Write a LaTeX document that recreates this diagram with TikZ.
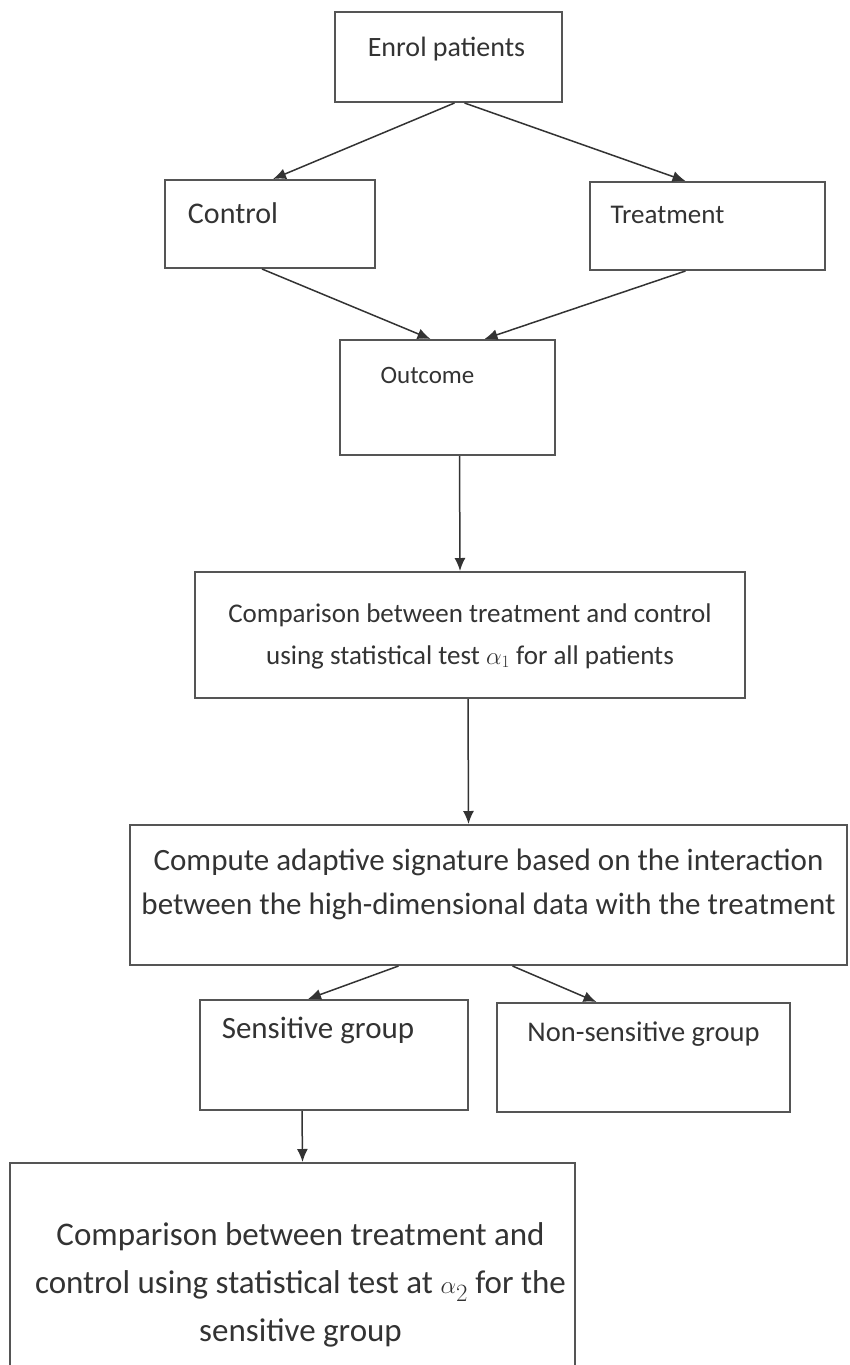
\documentclass[tikz,border=0pt]{standalone}
\usepackage{fontspec}
\setmainfont{Carlito}
\usetikzlibrary{arrows.meta,calc}
\definecolor{edge}{HTML}{555555}
\definecolor{ink}{HTML}{333333}
\newcommand{\boxtxt}[3]{\raisebox{#2}[0pt][0pt]{\makebox[0pt]{\hspace*{#1}\begin{tabular}{@{}c@{}}#3\end{tabular}}}}
\begin{document}
\begin{tikzpicture}[x=1pt,y=-1pt,
  box/.style={draw=edge,line width=2pt,rectangle,inner sep=0pt,text=ink,
    font=\fontsize{27}{42}\selectfont},
  big/.style={font=\fontsize{31}{44}\selectfont},
  bigger/.style={font=\fontsize{33}{48}\selectfont},
  mid/.style={font=\fontsize{30}{42}\selectfont},
  arr/.style={draw=ink,line width=1.5pt,-{Latex[length=13pt,width=11pt]}}]
\useasboundingbox (0,0) rectangle (850,1365);
\clip (0,0) rectangle (850,1365);
\node[box,font=\fontsize{28}{42}\selectfont,minimum width=227,minimum height=90] (enrol) at (448.5,57) {\boxtxt{-4pt}{3pt}{Enrol patients}};
\node[box,mid,minimum width=210,minimum height=88] (control) at (270,224) {\boxtxt{-74pt}{3pt}{Control}};
\node[box,minimum width=235,minimum height=88] (treat) at (707.5,226) {\boxtxt{-80pt}{5pt}{Treatment}};
\node[box,font=\fontsize{25}{42}\selectfont,minimum width=215,minimum height=115] (outcome) at (447.5,397.5) {\boxtxt{-40pt}{16pt}{Outcome}};
\node[box,minimum width=550,minimum height=126] (comp1) at (470,635) {\boxtxt{0pt}{-6pt}{Comparison between treatment and control\\ using statistical test $\alpha_1$ for all patients}};
\node[box,big,minimum width=717,minimum height=140] (compute) at (488.5,895) {\boxtxt{0pt}{5pt}{Compute adaptive signature based on the interaction\\ between the high-dimensional data with the treatment}};
\node[box,font=\fontsize{31}{42}\selectfont,minimum width=268,minimum height=110] (sens) at (334,1055) {\boxtxt{-32pt}{19pt}{Sensitive group}};
\node[box,font=\fontsize{28.5}{42}\selectfont,minimum width=293,minimum height=109] (nonsens) at (643.5,1057.5) {\boxtxt{0pt}{18pt}{Non-sensitive group}};
\node[box,bigger,minimum width=565,minimum height=217] (comp2) at (292.5,1271.5) {\boxtxt{16pt}{-19pt}{Comparison between treatment and\\ control using statistical test at $\alpha_2$ for the\\ sensitive group}};
% connectors
\draw[arr] ([xshift=6pt]enrol.south) -- ([xshift=3pt]control.north);
\draw[arr] ([xshift=16pt]enrol.south) -- ([xshift=-22pt]treat.north);
\draw[arr] ([xshift=-8pt]control.south) -- ([xshift=-17pt]outcome.north);
\draw[arr] ([xshift=-22pt]treat.south) -- ([xshift=37pt]outcome.north);
\draw[arr] ([xshift=12pt]outcome.south) -- ([xshift=-10pt]comp1.north);
\draw[arr] ([xshift=-2pt]comp1.south) -- ([xshift=-20pt]compute.north);
\draw[arr] ([xshift=-90pt]compute.south) -- ([xshift=-26pt]sens.north);
\draw[arr] ([xshift=24pt]compute.south) -- ([xshift=-47pt]nonsens.north);
\draw[arr] ([xshift=-32pt]sens.south) -- ([xshift=10pt]comp2.north);
\end{tikzpicture}
\end{document}
